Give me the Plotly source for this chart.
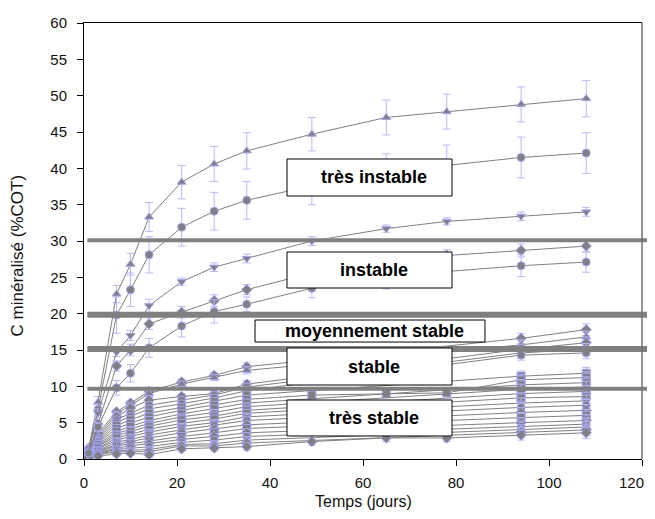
import plotly.graph_objects as go

# ---------------- data ----------------
jours = [0, 1, 3, 7, 10, 14, 21, 28, 35, 49, 65, 78, 94, 108]
x_ticks = [0, 20, 40, 60, 80, 100, 120]
x_ticklabels = ["0", "20", "40", "60", "80", "100", "120"]

# upper (labile) series
s_a = [0, 1.5, 7.8, 22.7, 26.8, 33.3, 38.1, 40.6, 42.4, 44.7, 47.0, 47.8, 48.8, 49.6]
e_a = [0, 0.3, 0.8, 1.2, 1.5, 2.0, 2.3, 2.4, 2.5, 2.3, 2.4, 2.4, 2.4, 2.5]
s_b = [0, 1.3, 6.8, 19.8, 23.3, 28.1, 31.9, 34.1, 35.6, 37.6, 39.2, 40.4, 41.5, 42.1]
e_b = [0, 0.3, 0.8, 2.5, 2.3, 2.5, 2.6, 2.6, 2.6, 2.6, 2.8, 2.8, 2.8, 2.8]
s_c = [0, 1.0, 6.3, 14.7, 17.0, 21.1, 24.4, 26.4, 27.6, 30.0, 31.7, 32.7, 33.4, 34.0]
e_c = [0, 0.2, 0.6, 0.6, 0.7, 0.9, 0.5, 0.6, 0.6, 0.6, 0.5, 0.5, 0.6, 0.6]
s_d = [0, 0.9, 4.8, 12.8, 15.0, 18.6, 20.2, 21.8, 23.3, 25.6, 27.2, 28.0, 28.7, 29.3]
e_d = [0, 0.2, 0.5, 0.7, 0.8, 0.8, 0.8, 0.8, 0.7, 0.8, 0.8, 0.8, 0.9, 0.8]
s_e = [0, 0.8, 4.4, 9.8, 11.8, 15.3, 18.3, 20.3, 21.3, 23.5, 24.8, 25.8, 26.6, 27.1]
e_e = [0, 0.2, 0.6, 1.0, 1.2, 1.3, 1.5, 1.6, 1.0, 1.3, 1.4, 1.4, 1.5, 1.4]

N = None
# lower (stable) series
l01 = [0, 1.5, 3.5, 6.5, 7.7, 9.3, 10.6, 11.5, 12.7, N, N, N, 16.6, 17.8]
l02 = [0, 1.3, 3.2, 6.2, 7.4, 9.0, 10.3, 11.2, 12.2, N, N, N, 15.7, 16.8]
l03 = [0, 1.2, 3.0, 5.8, 7.0, 8.1, 8.6, 9.0, 10.3, N, N, N, 15.1, 16.0]
l04 = [0, 1.1, 2.8, 5.4, 6.3, 7.4, 8.1, 8.8, 9.9, N, N, N, 14.6, 15.1]
l05 = [0, 1.0, 2.6, 5.0, 5.9, 6.9, 7.6, 8.4, 9.4, N, N, N, 14.3, 14.6]
l06 = [0, 0.9, 2.4, 4.6, 5.4, 6.3, 7.1, 7.9, 8.8, N, N, N, 11.4, 11.8]
l07 = [0, 0.9, 2.2, 4.2, 4.9, 5.8, 6.7, 7.4, 8.2, 8.8, 9.0, 9.1, 10.9, 11.2]
l08 = [0, 0.8, 2.0, 3.8, 4.5, 5.3, 6.2, 6.9, 7.7, N, N, N, 10.2, 10.5]
l09 = [0, 0.7, 1.8, 3.5, 4.1, 4.9, 5.8, 6.4, 7.2, N, N, N, 9.6, 9.9]
l10 = [0, 0.7, 1.7, 3.2, 3.8, 4.5, 5.4, 5.9, 6.7, N, N, N, 9.0, 9.3]
l11 = [0, 0.6, 1.5, 2.9, 3.4, 4.1, 4.9, 5.5, 6.3, N, N, N, 8.4, 8.6]
l12 = [0, 0.6, 1.4, 2.6, 3.1, 3.7, 4.5, 5.0, 5.8, N, N, N, 7.7, 8.0]
l13 = [0, 0.5, 1.2, 2.3, 2.7, 3.3, 4.0, 4.6, 5.3, N, N, N, 7.1, 7.4]
l14 = [0, 0.5, 1.1, 2.0, 2.4, 2.9, 3.6, 4.1, 4.7, N, N, N, 6.4, 6.7]
l15 = [0, 0.4, 1.0, 1.8, 2.1, 2.5, 3.1, 3.6, 4.2, N, N, N, 5.7, 6.0]
l16 = [0, 0.4, 0.9, 1.5, 1.8, 2.1, 2.7, 3.1, 3.6, N, N, N, 5.0, 5.3]
l17 = [0, 0.3, 0.8, 1.3, 1.5, 1.7, 2.3, 2.6, 3.1, N, N, N, 4.5, 4.8]
l18 = [0, 0.3, 0.7, 1.1, 1.2, 1.3, 2.0, 2.1, 2.6, N, N, N, 4.0, 4.4]
l19 = [0, 0.3, 0.6, 1.0, 1.0, 1.0, 1.8, 1.8, 2.2, N, N, N, 3.7, 4.0]
l20 = [0, 0.2, 0.4, 0.7, 0.8, 0.6, 1.4, 1.5, 1.7, 2.4, 2.9, 2.9, 3.3, 3.6]
err_lower = [0, 0.1, 0.2, 0.3, 0.3, 0.4, 0.4, 0.4, 0.5, 0.5, 0.5, 0.5, 0.7, 0.8]

upper_series = [(s_a, e_a, "triangle-up"), (s_b, e_b, "circle"),
                (s_c, e_c, "triangle-down"), (s_d, e_d, "diamond"),
                (s_e, e_e, "circle")]
lower_series = [l01, l02, l03, l04, l05, l06, l07, l08, l09, l10,
                l11, l12, l13, l14, l15, l16, l17, l18, l19, l20]
lower_symbols = ["diamond", "triangle-up", "diamond", "circle", "circle",
                 "square", "square", "square", "triangle-up", "square",
                 "square", "triangle-down", "circle", "diamond", "square",
                 "diamond", "circle", "triangle-up", "diamond", "diamond"]

# class boundaries (C minéralisé, %COT)
seuils = [30.1, 19.86, 15.15, 9.67]
classes = ["très instable", "instable", "moyennement stable", "stable", "très stable"]

# ---------------- styles ----------------
LINE = "#808080"
MK_EDGE = "#a3a3ff"
ERR = "#b8b8ff"
seuil_widths = [4, 6, 6, 4]
# box geometry in paper coords: (x0, x1, y0, y1)
boxes = [(0.3638, 0.6595, 0.6032, 0.6881),
         (0.3638, 0.6595, 0.3922, 0.4748),
         (0.3065, 0.7186, 0.2683, 0.3188),
         (0.3638, 0.6595, 0.1697, 0.2546),
         (0.3638, 0.6595, 0.0528, 0.1353)]

fig = go.Figure()


def add_series(vals, errs, sym):
    fig.add_trace(go.Scatter(
        x=jours, y=vals, mode="lines+markers", connectgaps=True,
        line=dict(color=LINE, width=1),
        marker=dict(symbol=sym, size=8, color=LINE,
                    line=dict(color=MK_EDGE, width=1)),
        error_y=dict(type="data", array=errs, visible=True,
                     color=ERR, thickness=1, width=4),
        showlegend=False, hoverinfo="x+y"))


for i, vals in enumerate(lower_series):
    add_series(vals, err_lower, lower_symbols[i])
for vals, errs, sym in upper_series:
    add_series(vals, errs, sym)

shapes = []
for v, w in zip(seuils, seuil_widths):
    shapes.append(dict(type="line", xref="paper", yref="y",
                       x0=0.006, x1=1.023, y0=v, y1=v,
                       line=dict(color=LINE, width=w)))
# right border of plot area
shapes.append(dict(type="line", xref="paper", yref="paper",
                   x0=1, x1=1, y0=0, y1=1,
                   line=dict(color="#707070", width=1.5)))
annotations = []
for (x0, x1, y0, y1), txt in zip(boxes, classes):
    shapes.append(dict(type="rect", xref="paper", yref="paper",
                       x0=x0, x1=x1, y0=y0, y1=y1,
                       line=dict(color="black", width=1),
                       fillcolor="white"))
    annotations.append(dict(xref="paper", yref="paper",
                            x=(x0 + x1) / 2 + 0.008, y=(y0 + y1) / 2,
                            text="<b>" + txt + "</b>", showarrow=False,
                            xanchor="center", yanchor="middle",
                            font=dict(family="Liberation Sans, Arial",
                                      size=18, color="black")))

tickfont = dict(family="Liberation Sans Narrow, Arial Narrow, Liberation Sans",
                size=15, color="#111")

# last x tick label sits at the page edge: drawn right-aligned so it stays visible
annotations.append(dict(xref="paper", yref="paper", x=1.008, y=-0.055,
                        text=x_ticklabels[-1], showarrow=False,
                        xanchor="right", yanchor="middle", font=tickfont))

annotations.append(dict(xref="paper", yref="paper", x=0.5, y=-0.097,
                        text="Temps (jours)", showarrow=False,
                        xanchor="center", yanchor="middle",
                        font=dict(family="Liberation Sans, Arial", size=16,
                                  color="#111")))
annotations.append(dict(xref="paper", yref="paper", x=-0.12, y=0.467,
                        text="C minéralisé (%COT)", showarrow=False,
                        textangle=-90, xanchor="center", yanchor="middle",
                        font=dict(family="Liberation Sans, Arial", size=17,
                                  color="#111")))

# figure sits inside the page's default 8px body margin
fig.update_layout(
    width=639, height=503,
    margin=dict(l=76, r=5, t=15, b=52, autoexpand=False),
    paper_bgcolor="white", plot_bgcolor="white",
    shapes=shapes, annotations=annotations,
    xaxis=dict(range=[0, 120], tickvals=x_ticks,
               ticktext=x_ticklabels[:-1] + [""],
               ticks="outside", ticklen=6,
               tickcolor="black", showline=True, linecolor="black",
               linewidth=1, mirror=True, showgrid=False, zeroline=False,
               tickfont=tickfont, ticklabelstandoff=4, automargin=False),
    yaxis=dict(range=[0, 60], dtick=5, ticks="outside", ticklen=6,
               tickcolor="black", showline=True, linecolor="black",
               linewidth=1, showgrid=False, zeroline=False,
               tickfont=tickfont, ticklabelstandoff=7, automargin=False),
)

fig.write_html("out.html")
